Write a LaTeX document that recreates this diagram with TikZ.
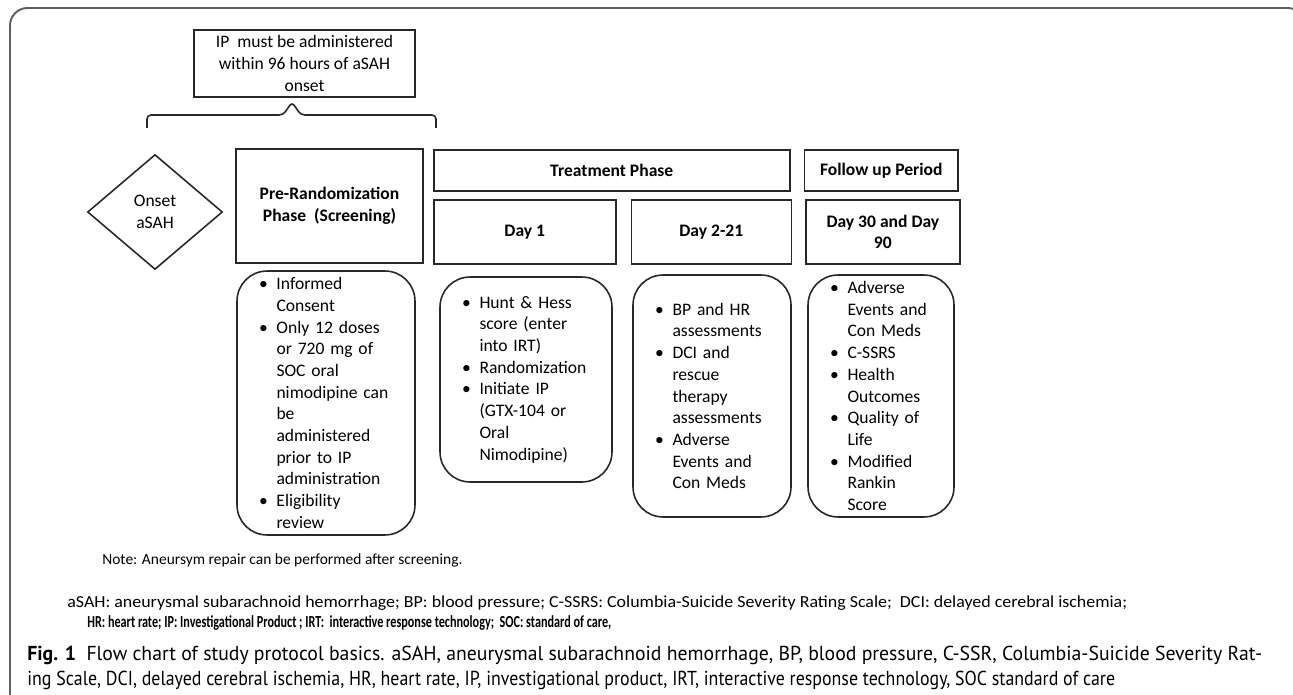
\documentclass[tikz,border=0pt]{standalone}
\usepackage{fontspec}
\setmainfont{Carlito}
\newfontfamily\capfont[FakeStretch=0.9]{PT Sans}
\usetikzlibrary{positioning,shapes.geometric}
\definecolor{lineGray}{RGB}{40,40,40}
\definecolor{frameGray}{RGB}{95,95,95}
\tikzset{
  box/.style={draw=lineGray, line width=0.9pt, align=center, inner sep=2pt, font={\fontsize{10}{12.35}\selectfont}},
  phase/.style={box, font={\bfseries\fontsize{10}{12.35}\selectfont}},
  listbox/.style={draw=lineGray, line width=0.9pt, rounded corners=0.6cm, align=left, inner xsep=0.44cm, inner ysep=0pt, font={\fontsize{10}{12.35}\selectfont}},
  onset/.style={box, diamond, inner sep=0pt},
  bracket/.style={draw=lineGray, line width=0.9pt, rounded corners=0.08cm},
  frame/.style={draw=frameGray, line width=1.1pt, rounded corners=0.35cm},
  note/.style={anchor=west, align=left, inner sep=0pt, font={\fontsize{8.8}{11}\selectfont}},
  legend/.style={note, font={\fontsize{9.6}{11}\selectfont}},
  caption/.style={anchor=west, align=left, inner sep=0pt, font={\capfont\fontsize{11.5}{14}\selectfont}}
}
\newcommand{\bul}{\makebox[0.35cm][l]{\textbullet}}
\newcommand{\bulpad}{\hspace*{0.35cm}}

\begin{document}
\begin{tikzpicture}[x=0.02cm, y=-0.02cm]
  \useasboundingbox (0,0) rectangle (1293,695);
  \draw[frame] (10,720) -- (10,8) -- (1305,8) -- (1305,60);

  \node[box, minimum width=4.42cm, minimum height=1.34cm] (ipnote) at (304.5,63.5) {IP\ \ must be administered\\within 96 hours of aSAH\\onset};
  \coordinate (braceL) at (147,128);
  \coordinate (braceTip) at (292,102);
  \coordinate (braceR) at (436,128);
  \draw[bracket] (braceL) |- ([xshift=-5]braceTip |- 0,115) -- (braceTip) -- ([xshift=5]braceTip |- 0,115) -| (braceR);

  \node[onset, minimum width=2.7cm, minimum height=2.3cm] (onset) at (155,212) {Onset\\aSAH};
  \node[phase, minimum width=3.74cm, minimum height=2.28cm] (prehead) at (329.5,206) {Pre-Randomization\\Phase\ \ (Screening)};
  \node[phase, minimum width=7.12cm, minimum height=0.82cm, anchor=north west] (treat) at (433,149) {Treatment Phase};
  \node[phase, minimum width=3.08cm, minimum height=0.82cm, right=0.26cm of treat] (follow) {Follow up Period};
  \node[phase, minimum width=3.64cm, minimum height=1.28cm, anchor=north west] (day1) at (433,199) {Day 1};
  \node[phase, minimum width=3.2cm, minimum height=1.28cm, right=0.28cm of day1] (day2) {Day 2-21};
  \node[phase, minimum width=3.08cm, minimum height=1.28cm, right=0.26cm of day2] (day30) {Day 30 and Day\\90};

  \node[listbox, text width=2.68cm, minimum height=5.28cm] (prelist) at (326,403) {\bul Informed\\\bulpad Consent\\\bul Only 12 doses\\\bulpad or 720 mg of\\\bulpad SOC oral\\\bulpad nimodipine can\\\bulpad be\\\bulpad administered\\\bulpad prior to IP\\\bulpad administration\\\bul Eligibility\\\bulpad review};
  \node[listbox, text width=2.56cm, minimum height=4.1cm] (day1list) at (526,379.5) {\bul Hunt \& Hess\\\bulpad score (enter\\\bulpad into IRT)\\\bul Randomization\\\bul Initiate IP\\\bulpad (GTX-104 or\\\bulpad Oral\\\bulpad Nimodipine)};
  \node[listbox, text width=2.28cm, minimum height=4.84cm] (day2list) at (712,396) {\bul BP and HR\\\bulpad assessments\\\bul DCI and\\\bulpad rescue\\\bulpad therapy\\\bulpad assessments\\\bul Adverse\\\bulpad Events and\\\bulpad Con Meds};
  \node[listbox, text width=2.04cm, minimum height=4.84cm] (day30list) at (881,396) {\bul Adverse\\\bulpad Events and\\\bulpad Con Meds\\\bul C-SSRS\\\bul Health\\\bulpad Outcomes\\\bul Quality of\\\bulpad Life\\\bul Modified\\\bulpad Rankin\\\bulpad Score};

  \node[note] (repair) at (102,560) {Note: Aneursym repair can be performed after screening.};
  \node[legend] (abbr1) at (67,603) {\resizebox{21.2cm}{\height}{aSAH: aneurysmal subarachnoid hemorrhage; BP: blood pressure; C-SSRS: Columbia-Suicide Severity Rating Scale;\ \ DCI: delayed cerebral ischemia;}};
  \node[legend] (abbr2) at (87,623) {\resizebox{10.48cm}{\height}{\bfseries HR: heart rate; IP: Investigational Product ; IRT:\ \ interactive response technology;\ \ SOC: standard of care,}};

  \node[caption] (cap1) at (27,655) {\resizebox{24.7cm}{\height}{\textbf{Fig. 1}\ \ Flow chart of study protocol basics. aSAH, aneurysmal subarachnoid hemorrhage, BP, blood pressure, C-SSR, Columbia-Suicide Severity Rat-}};
  \node[caption] (cap2) at (27,680) {\resizebox{21.76cm}{\height}{ing Scale, DCI, delayed cerebral ischemia, HR, heart rate, IP, investigational product, IRT, interactive response technology, SOC standard of care}};
\end{tikzpicture}
\end{document}
